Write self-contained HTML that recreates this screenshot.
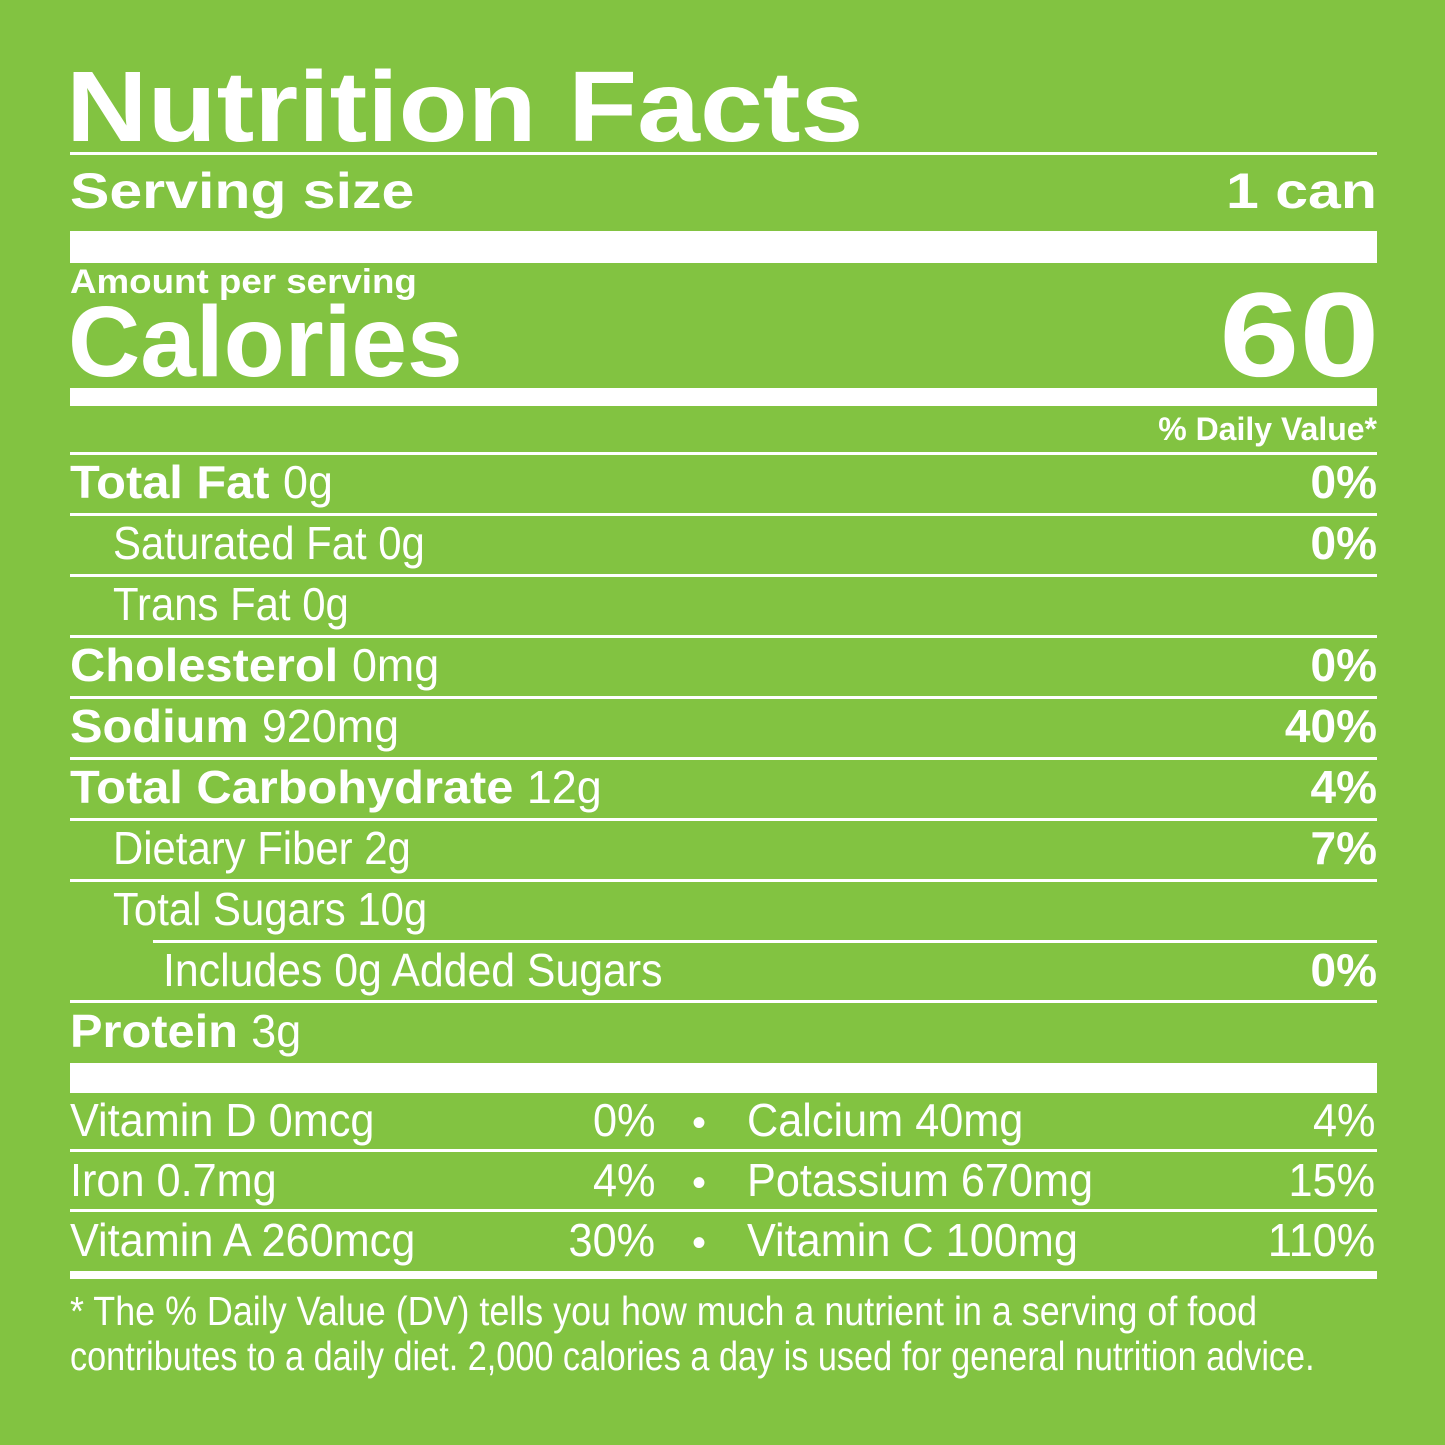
<!DOCTYPE html>
<html><head><meta charset="utf-8"><style>
body{margin:0}
#p{position:relative;width:1445px;height:1445px;background:#82c341;overflow:hidden;color:#fff;font-family:"Liberation Sans",sans-serif}
.t{position:absolute;line-height:1;white-space:nowrap;transform-origin:left top}
.b{font-weight:bold}
.n{transform:scaleX(0.92)}
span.n{display:inline-block;transform-origin:left center;font-weight:normal}
.r{transform-origin:right top}
.l{position:absolute;left:70px;width:1307px;background:#fff;height:3px}
</style></head><body>
<div id="p">
<div class="t b" style="left:66px;top:57px;font-size:100px;transform:scaleX(1.13)">Nutrition Facts</div>
<div class="l" style="top:152px"></div>
<div class="t b" style="left:70px;top:166px;font-size:50px;transform:scaleX(1.18)">Serving size</div>
<div class="t b r" style="right:68px;top:166px;font-size:50px;transform:scaleX(1.18)">1 can</div>
<div class="l" style="top:231px;height:32px"></div>
<div class="t b" style="left:70px;top:265px;font-size:34px;transform:scaleX(1.08)">Amount per serving</div>
<div class="t b" style="left:68px;top:292px;font-size:100px">Calories</div>
<div class="t b r" style="right:66px;top:275px;font-size:120px;transform:scaleX(1.2)">60</div>
<div class="l" style="top:388px;height:18px"></div>
<div class="t b r" style="right:68px;top:413px;font-size:32px">% Daily Value*</div>
<div class="l" style="top:452px"></div>

<div class="t b" style="left:70px;top:459px;font-size:46px;transform:scaleX(1.06)">Total Fat <span class="n">0g</span></div>
<div class="t b r" style="right:68px;top:459px;font-size:46px">0%</div>
<div class="l" style="top:513px"></div>
<div class="t n" style="left:113px;top:520px;font-size:46px;transform:scaleX(0.91)">Saturated Fat 0g</div>
<div class="t b r" style="right:68px;top:520px;font-size:46px">0%</div>
<div class="l" style="top:574px"></div>
<div class="t n" style="left:113px;top:581px;font-size:46px;transform:scaleX(0.91)">Trans Fat 0g</div>
<div class="l" style="top:635px"></div>
<div class="t b" style="left:70px;top:642px;font-size:46px;transform:scaleX(1.06)">Cholesterol <span class="n">0mg</span></div>
<div class="t b r" style="right:68px;top:642px;font-size:46px">0%</div>
<div class="l" style="top:696px"></div>
<div class="t b" style="left:70px;top:703px;font-size:46px;transform:scaleX(1.06)">Sodium <span class="n">920mg</span></div>
<div class="t b r" style="right:68px;top:703px;font-size:46px">40%</div>
<div class="l" style="top:757px"></div>
<div class="t b" style="left:70px;top:764px;font-size:46px;transform:scaleX(1.06)">Total Carbohydrate <span class="n">12g</span></div>
<div class="t b r" style="right:68px;top:764px;font-size:46px">4%</div>
<div class="l" style="top:818px"></div>
<div class="t n" style="left:113px;top:825px;font-size:46px;transform:scaleX(0.91)">Dietary Fiber 2g</div>
<div class="t b r" style="right:68px;top:825px;font-size:46px">7%</div>
<div class="l" style="top:879px"></div>
<div class="t n" style="left:113px;top:886px;font-size:46px;transform:scaleX(0.91)">Total Sugars 10g</div>
<div class="l" style="top:940px;left:153px;width:1224px"></div>
<div class="t n" style="left:163px;top:947px;font-size:46px;transform:scaleX(0.93)">Includes 0g Added Sugars</div>
<div class="t b r" style="right:68px;top:947px;font-size:46px">0%</div>
<div class="l" style="top:1000px"></div>
<div class="t b" style="left:70px;top:1008px;font-size:46px;transform:scaleX(1.06)">Protein <span class="n">3g</span></div>
<div class="l" style="top:1063px;height:30px"></div>

<div class="t n" style="left:70px;top:1097px;font-size:46px;transform:scaleX(0.94)">Vitamin D 0mcg</div>
<div class="t r" style="right:790px;top:1097px;font-size:46px;transform:scaleX(0.94)">0%</div>
<div class="t" style="left:692px;top:1103px;font-size:40px">•</div>
<div class="t n" style="left:747px;top:1097px;font-size:46px;transform:scaleX(0.94)">Calcium 40mg</div>
<div class="t r" style="right:70px;top:1097px;font-size:46px;transform:scaleX(0.94)">4%</div>
<div class="l" style="top:1149px"></div>
<div class="t n" style="left:70px;top:1157px;font-size:46px;transform:scaleX(0.94)">Iron 0.7mg</div>
<div class="t r" style="right:790px;top:1157px;font-size:46px;transform:scaleX(0.94)">4%</div>
<div class="t" style="left:692px;top:1163px;font-size:40px">•</div>
<div class="t n" style="left:747px;top:1157px;font-size:46px;transform:scaleX(0.94)">Potassium 670mg</div>
<div class="t r" style="right:70px;top:1157px;font-size:46px;transform:scaleX(0.94)">15%</div>
<div class="l" style="top:1209px"></div>
<div class="t n" style="left:70px;top:1217px;font-size:46px;transform:scaleX(0.94)">Vitamin A 260mcg</div>
<div class="t r" style="right:790px;top:1217px;font-size:46px;transform:scaleX(0.94)">30%</div>
<div class="t" style="left:692px;top:1223px;font-size:40px">•</div>
<div class="t n" style="left:747px;top:1217px;font-size:46px;transform:scaleX(0.94)">Vitamin C 100mg</div>
<div class="t r" style="right:70px;top:1217px;font-size:46px;transform:scaleX(0.94)">110%</div>
<div class="l" style="top:1271px;height:8px"></div>

<div class="t" style="left:70px;top:1291px;font-size:41px;transform:scaleX(0.875)">* The % Daily Value (DV) tells you how much a nutrient in a serving of food</div>
<div class="t" style="left:70px;top:1336px;font-size:41px;transform:scaleX(0.835)">contributes to a daily diet. 2,000 calories a day is used for general nutrition advice.</div>
</div>
</body></html>
